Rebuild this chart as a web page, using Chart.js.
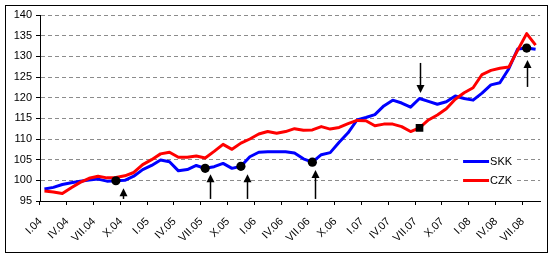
<!DOCTYPE html>
<html>
<head>
<meta charset="utf-8">
<script src="https://cdn.jsdelivr.net/npm/chart.js@4.4.1/dist/chart.umd.min.js"></script>
<style>
  html, body { margin: 0; padding: 0; background: #fff; }
</style>
</head>
<body>
<canvas id="chart" width="555" height="260"></canvas>
<script>
// month labels I.04 ... VIII.08
const romans = ["I", "II", "III", "IV", "V", "VI", "VII", "VIII", "IX", "X", "XI", "XII"];
const years = ["04", "05", "06", "07", "08"];
const labels = [];
years.forEach(yr => romans.forEach(m => labels.push(m + "." + yr)));
labels.length = 56;

const skk = [97.9, 98.3, 99.0, 99.4, 99.8, 100.1, 100.3, 99.8, 99.9, 100.0,
  101.0, 102.6, 103.6, 104.9, 104.5, 102.3, 102.6, 103.6, 102.9, 103.3,
  104.1, 102.9, 103.4, 105.7, 106.8, 106.9, 106.9, 106.9, 106.6, 105.2,
  104.4, 106.2, 106.7, 109.2, 111.5, 114.6, 115.2, 115.9, 118.0, 119.4,
  118.7, 117.7, 119.8, 119.1, 118.4, 119.0, 120.4, 119.8, 119.4, 121.1,
  123.1, 123.6, 127.0, 131.8, 132.0, 131.7];

const czk = [97.4, 97.2, 96.8, 98.2, 99.5, 100.5, 101.0, 100.6, 100.7, 101.1,
  101.9, 103.8, 105.0, 106.4, 106.8, 105.6, 105.6, 105.9, 105.4, 107.0,
  108.7, 107.5, 109.0, 110.0, 111.2, 111.8, 111.4, 111.8, 112.5, 112.1,
  112.2, 113.0, 112.4, 112.8, 113.7, 114.5, 114.4, 113.2, 113.6, 113.6,
  113.0, 111.8, 112.7, 114.6, 115.8, 117.3, 119.6, 121.2, 122.4, 125.6,
  126.6, 127.1, 127.4, 131.5, 135.5, 132.7];

const yTicks = { min: 95, max: 140, step: 5 };

// highlighted months (index into labels)
const circleAt = [8, 18, 22, 30, 54];   // on SKK
const squareAt = [42];                  // on CZK

// arrows: category position, start value, tip value
const arrowAt = [8.75, 18.55, 22.7, 30.3, 54, 42.1];
const arrowFrom = [95.5, 95.5, 95.5, 95.5, 122.6, 128.4];
const arrowTo = [98.1, 101.5, 101.5, 102.5, 129.1, 121.1];

const FONT = "Arial, 'Liberation Sans', sans-serif";

const frame = {
  id: "frame",
  beforeDraw(chart) {
    const ctx = chart.ctx;
    ctx.save();
    ctx.fillStyle = "#fff";
    ctx.fillRect(0, 0, chart.width, chart.height);
    ctx.restore();
  },
  afterDraw(chart) {
    const { ctx, chartArea: a, scales: { x, y } } = chart;
    ctx.save();
    // arrows
    ctx.strokeStyle = "#000";
    ctx.fillStyle = "#000";
    ctx.lineWidth = 1.5;
    arrowAt.forEach((p, k) => {
      const px = Math.round(x.getPixelForValue(p)) + 0.5;
      const y0 = y.getPixelForValue(arrowFrom[k]);
      const y1 = y.getPixelForValue(arrowTo[k]);
      const dir = y1 < y0 ? 1 : -1;
      ctx.beginPath();
      ctx.moveTo(px, y0);
      ctx.lineTo(px, y1 + dir * 6);
      ctx.stroke();
      ctx.beginPath();
      ctx.moveTo(px, y1);
      ctx.lineTo(px - 4, y1 + dir * 8);
      ctx.lineTo(px + 4, y1 + dir * 8);
      ctx.closePath();
      ctx.fill();
    });
    // legend
    const lx = a.right - 82, ly = a.bottom - 50;
    ctx.fillStyle = "#fff";
    ctx.fillRect(lx, ly, 58, 38);
    ctx.lineWidth = 3;
    [["SKK", "#0000ff", a.bottom - 40], ["CZK", "#ff0000", a.bottom - 21]].forEach(([t, c, yy]) => {
      ctx.strokeStyle = c;
      ctx.beginPath();
      ctx.moveTo(a.right - 77, yy + 0.5);
      ctx.lineTo(a.right - 51, yy + 0.5);
      ctx.stroke();
      ctx.fillStyle = "#000";
      ctx.font = "11px " + FONT;
      ctx.textBaseline = "middle";
      ctx.fillText(t, a.right - 50, yy + 1);
    });
    // outer border
    ctx.lineWidth = 1;
    ctx.strokeStyle = "#000";
    ctx.strokeRect(5.5, 5.5, 542, 247);
    ctx.restore();
  }
};

new Chart(document.getElementById("chart"), {
  type: "line",
  data: {
    labels,
    datasets: [
      {
        label: "marks",
        data: skk.map((v, i) => circleAt.includes(i) ? v : null),
        showLine: false,
        pointRadius: 4.6,
        pointStyle: "circle",
        pointBackgroundColor: "#000",
        pointBorderColor: "#000",
        pointBorderWidth: 0,
        order: -2
      },
      {
        label: "marks2",
        data: czk.map((v, i) => squareAt.includes(i) ? v : null),
        showLine: false,
        pointRadius: 5.4,
        pointStyle: "rect",
        pointBackgroundColor: "#000",
        pointBorderColor: "#000",
        pointBorderWidth: 0,
        order: -1
      },
      { label: "SKK", data: skk, borderColor: "#0000ff", borderWidth: 3, pointRadius: 0, order: 2 },
      { label: "CZK", data: czk, borderColor: "#ff0000", borderWidth: 3, pointRadius: 0, order: 1 }
    ]
  },
  options: {
    responsive: false,
    animation: false,
    devicePixelRatio: 1,
    layout: { padding: { left: 5, top: 15, right: 7, bottom: 7 } },
    plugins: { legend: { display: false }, tooltip: { enabled: false } },
    elements: { line: { tension: 0, borderJoinStyle: "round" } },
    scales: {
      x: {
        offset: true,
        grid: {
          offset: true,
          drawOnChartArea: false,
          tickLength: 4,
          tickColor: ctx => ctx.index % 3 === 0 ? "#000" : "rgba(0,0,0,0)"
        },
        border: { color: "#000", width: 1 },
        ticks: {
          autoSkip: false,
          minRotation: 45,
          maxRotation: 45,
          padding: 10,
          labelOffset: -4,
          color: "#000",
          font: { family: FONT, size: 11 },
          callback: (v, i) => i % 3 === 0 ? labels[i] : ""
        },
        afterFit: s => { s.height = 52; }
      },
      y: {
        min: yTicks.min,
        max: yTicks.max,
        ticks: { stepSize: yTicks.step, color: "#000", padding: 4, font: { family: FONT, size: 11 } },
        grid: { color: "#8c8c8c", tickColor: "#000", tickLength: 4 },
        border: { color: "#000", width: 1, dash: [4, 3] },
        afterFit: s => { s.width = 35; }
      }
    }
  },
  plugins: [frame]
});
</script>
</body>
</html>
